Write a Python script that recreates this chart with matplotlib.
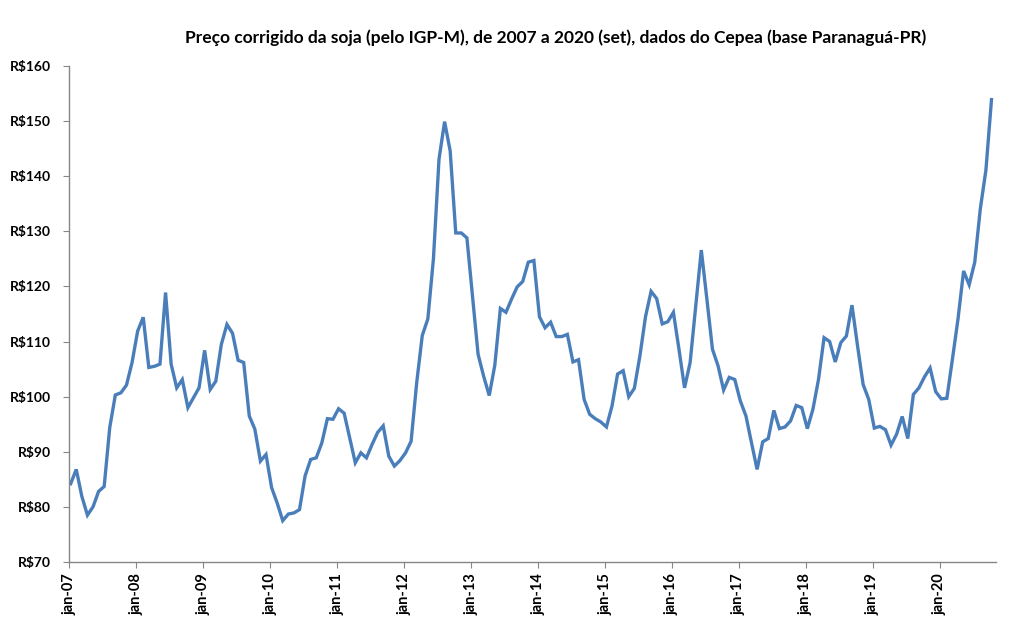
import numpy as np
import matplotlib.pyplot as plt

# preço corrigido, mensal, a partir de jan-07
precos = [84.2, 86.8, 81.9, 78.5, 80.0, 82.8, 83.7, 94.4, 100.3, 100.7, 102.1, 106.2,
          111.9, 114.4, 105.3, 105.5, 105.9, 118.9, 105.9, 101.6, 103.1, 98.0, 99.8, 101.6,
          108.4, 101.3, 102.8, 109.5, 113.1, 111.5, 106.6, 106.2, 96.5, 94.1, 88.3, 89.5,
          83.5, 80.7, 77.5, 78.7, 78.9, 79.5, 85.6, 88.6, 88.9, 91.6, 96.0, 95.9,
          97.8, 97.0, 92.5, 88.0, 89.8, 88.9, 91.3, 93.5, 94.7, 89.2, 87.4, 88.4,
          89.8, 91.9, 102.5, 111.1, 114.1, 125.0, 143.1, 149.9, 144.6, 129.7, 129.7, 128.8,
          118.3, 107.7, 103.7, 100.2, 105.7, 116.0, 115.3, 117.7, 119.9, 120.9, 124.4, 124.7,
          114.5, 112.5, 113.5, 110.9, 110.9, 111.3, 106.3, 106.7, 99.5, 96.8, 96.0, 95.4,
          94.5, 98.3, 104.1, 104.7, 100.0, 101.5, 107.4, 114.5, 119.1, 117.8, 113.2, 113.6,
          115.3, 108.6, 101.6, 106.2, 116.5, 126.6, 117.7, 108.6, 105.6, 101.2, 103.5, 103.1,
          99.2, 96.5, 91.6, 86.8, 91.8, 92.4, 97.5, 94.2, 94.5, 95.6, 98.4, 98.0,
          94.2, 97.7, 103.1, 110.7, 110.0, 106.3, 109.8, 111.0, 116.6, 109.2, 102.2, 99.5,
          94.3, 94.6, 94.0, 91.2, 93.2, 96.4, 92.4, 100.4, 101.6, 103.6, 105.2, 100.9,
          99.6, 99.7, 106.8, 114.1, 122.8, 120.3, 124.4, 134.1, 141.1, 153.9]

anos = ['07', '08', '09', '10', '11', '12', '13', '14', '15', '16', '17', '18', '19', '20']
rotulos_x = ['jan-' + a for a in anos]
ticks_y = [70, 80, 90, 100, 110, 120, 130, 140, 150, 160]

titulo = 'Preço corrigido da soja (pelo IGP-M), de 2007 a 2020 (set), dados do Cepea (base Paranaguá-PR)'

plt.rcParams['font.family'] = ['Lato', 'DejaVu Sans']

fig = plt.figure(figsize=(10.13, 6.32), dpi=100)
ax = fig.add_axes([0.0684, 0.1108, 0.9145, 0.7848])

meses = np.arange(len(precos)) + 0.25
ax.plot(meses, precos, color='#4a7ebb', lw=2.4, solid_joinstyle='miter')

ax.set_xlim(0, 166)
ax.set_ylim(70, 160)
ax.set_xticks(np.arange(len(anos)) * 12)
ax.set_xticklabels(rotulos_x, rotation=90, fontsize=10.5, fontweight='bold')
ax.set_yticks(ticks_y)
ax.set_yticklabels(['R$%d' % v for v in ticks_y], fontsize=10, fontweight='bold')

for s in ['top', 'right']:
    ax.spines[s].set_visible(False)
for s in ['left', 'bottom']:
    ax.spines[s].set_color('#868686')
    ax.spines[s].set_linewidth(1.0)
ax.tick_params(axis='y', length=4, color='#868686', pad=9)
ax.tick_params(axis='x', length=4, color='#868686', pad=4)

fig.text(0.5485, 0.94, titulo, ha='center', va='center', fontsize=12.5, fontweight='bold')

fig.savefig('out.png', dpi=100)
